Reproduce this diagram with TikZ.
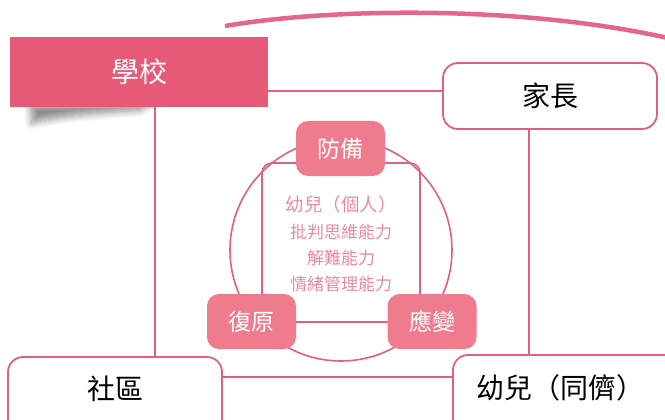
\documentclass[tikz,border=0pt]{standalone}
\usepackage{fontspec}
\setmainfont{Noto Sans CJK TC}
\usetikzlibrary{shadows.blur}
\definecolor{pinkA}{HTML}{E65A78}
\definecolor{pinkB}{HTML}{EE7C8C}
\definecolor{pinkLine}{HTML}{E06080}
\definecolor{pinkArc}{HTML}{E4668A}
\definecolor{pinkText}{HTML}{EA8AA0}
\begin{document}
\begin{tikzpicture}[x=1pt,y=-1pt,
  outerbox/.style={draw=pinkLine, line width=1.8pt, fill=white, rounded corners=15pt, inner sep=0pt},
  conn/.style={draw=pinkLine, line width=1.6pt},
  smallbox/.style={fill=pinkB, rounded corners=12pt, text=white, inner sep=0pt, minimum width=89pt, minimum height=55pt, font=\fontsize{23}{26}\selectfont},
  bigtext/.style={font=\fontsize{28}{32}\selectfont, text=black},
  innertext/.style={text=pinkText, inner sep=0pt}]
\useasboundingbox (0,0) rectangle (665,420);
% top arc
\draw[pinkArc, line width=4.5pt] (225,26) .. controls (330,8) and (520,5) .. (668,38);
% shadow
\path[blur shadow={shadow xshift=0pt, shadow yshift=0pt, shadow blur radius=7pt, shadow blur steps=10, shadow opacity=45}]
  (30,104) -- (150,104) -- (140,110) .. controls (100,113) and (60,116) .. (32,123) -- cycle;
% boxes
\node[fill=pinkA, minimum width=258pt, minimum height=70pt, inner sep=0pt, text=white, font=\fontsize{28}{32}\selectfont] (school) at (139,72) {學校};
\node[outerbox, minimum width=214pt, minimum height=66pt, bigtext] (parent) at (550,96) {家長};
\node[outerbox, minimum width=214pt, minimum height=100pt] (comm) at (115,407) {};
\node[bigtext] (commtext) at (115,389) {社區};
\node[outerbox, minimum width=227pt, minimum height=100pt] (peer) at (566.5,405) {};
\node[bigtext] (peertext) at (560,388) {幼兒（同儕）};
% connectors
\draw[conn] (school.east) ++(0,19) coordinate (c1) -- (c1 -| parent.west);
\draw[conn] ([xshift=16pt]school.south) -- ([xshift=16pt]school.south |- comm.north);
\draw[conn] ([xshift=-21pt]parent.south) -- ([xshift=-21pt]parent.south |- peer.north);
\draw[conn] (comm.north east) ++(0,21) coordinate (c2) -- (c2 -| peer.west);
% circle and inner rect
\node[draw=pinkLine, line width=1.6pt, circle, minimum size=222pt, inner sep=0pt] (ring) at (341,250) {};
\node[draw=pinkLine, line width=1.6pt, rounded corners=10pt, minimum width=158pt, minimum height=159pt, inner sep=0pt] (core) at (341,242.5) {};
% inner text
\node[innertext, font=\fontsize{18.5}{20}\selectfont] (t1) at (341,204) {幼兒（個人）};
\node[innertext, font=\fontsize{17}{19}\selectfont] (t2) at (341,232) {批判思維能力};
\node[innertext, font=\fontsize{17}{19}\selectfont] (t3) at (341,258) {解難能力};
\node[innertext, font=\fontsize{17}{19}\selectfont] (t4) at (341,284) {情緒管理能力};
% small boxes
\node[smallbox] (prevent) at (340.5,148.5) {防備};
\node[smallbox] (recover) at (251.5,321.5) {復原};
\node[smallbox] (respond) at (432,321.5) {應變};
\end{tikzpicture}
\end{document}
